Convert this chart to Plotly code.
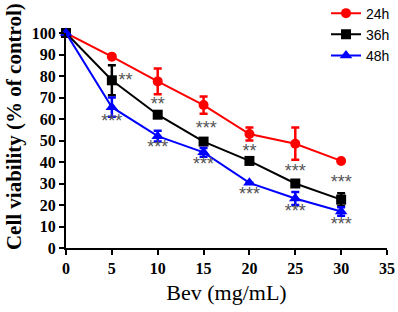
import plotly.graph_objects as go

doses = [0, 5, 10, 15, 20, 25, 30]
v24 = [100, 89, 77.5, 66.5, 53, 48.5, 40.5]
e24 = [0, 0, 6, 4, 3, 7.5, 0]
v36 = [100, 78, 62, 49.5, 40.5, 30, 22.5]
e36 = [0, 7, 0, 0, 0, 0, 3]
v48 = [100, 65.5, 52, 44.5, 30.3, 23, 17]
e48 = [0, 4.5, 2.5, 2, 0, 3, 2]

sig_text = ["**", "**", "***", "**", "***", "***",
            "***", "***", "***", "***", "***", "***"]
sig_x = [6.5, 10, 15.3, 20, 25, 30,
         5, 10, 15, 20, 25, 30]
sig_y = [77.5, 66.5, 55, 44.5, 35, 30,
         58.5, 46.5, 38.5, 24.2, 16.4, 10.7]

series = [
    ("24h", v24, e24, "#ff0000", "circle", 10),
    ("36h", v36, e36, "#000000", "square", 10),
    ("48h", v48, e48, "#0000ff", "triangle-up", 11),
]

fig = go.Figure()
for name, vals, errs, col, sym, sz in series:
    fig.add_trace(go.Scatter(
        x=doses, y=vals, name=name, mode="lines+markers",
        line=dict(color=col, width=2),
        marker=dict(color=col, symbol=sym, size=sz),
        error_y=dict(type="data", array=errs, visible=True, color=col,
                     thickness=2.5, width=4),
        cliponaxis=False,
    ))

fig.add_trace(go.Scatter(
    x=sig_x, y=sig_y, mode="text", text=sig_text, showlegend=False,
    textfont=dict(family="Liberation Sans", size=18, color="#555555"),
    cliponaxis=False, hoverinfo="skip",
))

axis_common = dict(
    showline=True, linecolor="black", linewidth=2,
    ticks="outside", ticklen=5, tickwidth=2, tickcolor="black",
    showgrid=False, zeroline=False,
    tickfont=dict(family="Liberation Serif", size=16, color="black", weight="bold"),
)

fig.update_layout(
    width=398, height=312,
    margin=dict(l=66, r=11, t=33, b=64, autoexpand=False),
    paper_bgcolor="white", plot_bgcolor="white",
    xaxis=dict(range=[0, 35], tickvals=[0, 5, 10, 15, 20, 25, 30, 35],
               title=dict(text="Bev (mg/mL)", standoff=8,
                          font=dict(family="Liberation Serif", size=22, color="black")),
               **axis_common),
    yaxis=dict(range=[0, 100], tickvals=list(range(0, 101, 10)), **axis_common),
    legend=dict(x=0.81, y=1.165, xanchor="left", yanchor="top",
                font=dict(family="Liberation Sans", size=14, color="black"),
                bgcolor="rgba(0,0,0,0)", itemwidth=30, tracegroupgap=0),
    showlegend=True,
    annotations=[dict(
        text="<b>Cell viability (% of control)</b>", textangle=-90,
        xref="paper", yref="paper", x=-0.162, y=0.567,
        xanchor="center", yanchor="middle", showarrow=False,
        font=dict(family="Liberation Serif", size=21, color="black"),
    )],
)

fig.write_html(
    "out.html",
    config={"displayModeBar": False},
    post_script="document.body.style.margin='0';document.body.style.overflow='hidden';",
)
